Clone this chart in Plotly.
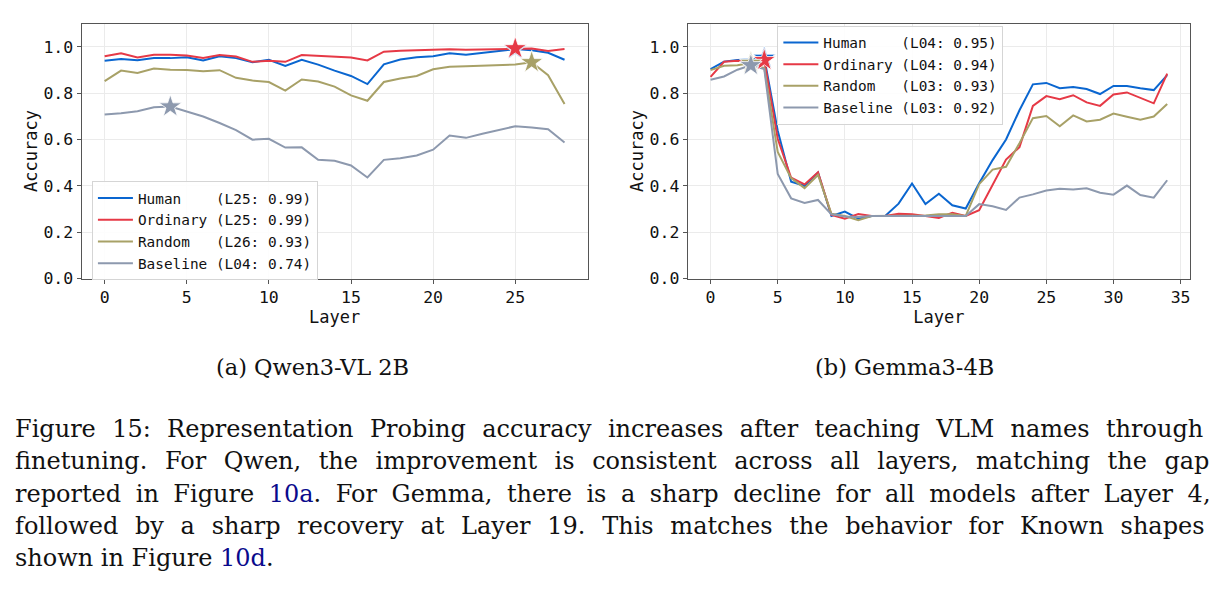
import plotly.graph_objects as go

# ---------------- data ----------------
qwen_layers = list(range(29))
qwen_human = [0.940, 0.947, 0.942, 0.951, 0.951, 0.955, 0.941, 0.959, 0.951, 0.933, 0.944, 0.917, 0.944, 0.923, 0.897,
              0.874, 0.839, 0.924, 0.945, 0.955, 0.959, 0.972, 0.966, 0.975, 0.982, 0.990, 0.985, 0.974, 0.944]
qwen_ordinary = [0.959, 0.972, 0.954, 0.966, 0.966, 0.962, 0.952, 0.964, 0.958, 0.935, 0.940, 0.935, 0.964, 0.961, 0.957,
                 0.954, 0.941, 0.979, 0.983, 0.985, 0.988, 0.989, 0.987, 0.988, 0.990, 0.993, 0.992, 0.982, 0.990]
qwen_random = [0.852, 0.897, 0.887, 0.906, 0.901, 0.900, 0.894, 0.899, 0.866, 0.854, 0.848, 0.811, 0.859, 0.850, 0.828,
               0.790, 0.767, 0.848, 0.863, 0.874, 0.903, 0.914, 0.916, 0.918, 0.921, 0.923, 0.933, 0.877, 0.753]
qwen_baseline = [0.708, 0.713, 0.722, 0.739, 0.742, 0.722, 0.699, 0.671, 0.640, 0.599, 0.603, 0.565, 0.566, 0.512, 0.508,
                 0.488, 0.436, 0.512, 0.519, 0.531, 0.556, 0.617, 0.607, 0.625, 0.642, 0.657, 0.652, 0.644, 0.587]

gemma_layers = list(range(35))
gemma_human = [0.904, 0.936, 0.943, 0.945, 0.952, 0.638, 0.418, 0.400, 0.457, 0.270, 0.289, 0.258, 0.270, 0.270, 0.323,
               0.410, 0.321, 0.366, 0.316, 0.302, 0.411, 0.511, 0.600, 0.726, 0.838, 0.844, 0.821, 0.826, 0.818, 0.796,
               0.831, 0.831, 0.821, 0.813, 0.878]
gemma_ordinary = [0.870, 0.935, 0.940, 0.935, 0.942, 0.603, 0.435, 0.406, 0.458, 0.274, 0.258, 0.278, 0.270, 0.270, 0.279,
                  0.277, 0.270, 0.261, 0.284, 0.270, 0.295, 0.403, 0.513, 0.567, 0.745, 0.787, 0.774, 0.791, 0.760, 0.745,
                  0.794, 0.803, 0.779, 0.756, 0.884]
gemma_random = [0.899, 0.918, 0.920, 0.930, 0.908, 0.546, 0.433, 0.390, 0.447, 0.279, 0.270, 0.252, 0.270, 0.270, 0.270,
                0.272, 0.272, 0.277, 0.277, 0.270, 0.407, 0.470, 0.482, 0.584, 0.692, 0.701, 0.657, 0.704, 0.678, 0.685,
                0.712, 0.698, 0.685, 0.699, 0.753]
gemma_baseline = [0.858, 0.872, 0.901, 0.920, 0.904, 0.451, 0.346, 0.326, 0.339, 0.277, 0.268, 0.265, 0.270, 0.270, 0.270,
                  0.270, 0.268, 0.270, 0.270, 0.270, 0.321, 0.312, 0.296, 0.349, 0.363, 0.380, 0.387, 0.384, 0.389, 0.370,
                  0.362, 0.401, 0.360, 0.349, 0.424]

series_names = ["Human", "Ordinary", "Random", "Baseline"]
series_colors = ["#0A66D0", "#E63946", "#A8A167", "#8D99AE"]

x_ticks = [0, 5, 10, 15, 20, 25, 30, 35]
y_ticks = [0.0, 0.2, 0.4, 0.6, 0.8, 1.0]

subcaptions = ["(a) Qwen3-VL 2B", "(b) Gemma3-4B"]
LINK = "#0A0A8C"
# each caption line: list of (text, color) pieces
caption_lines = [
    [("Figure 15: Representation Probing accuracy increases after teaching VLM names through", None)],
    [("finetuning. For Qwen, the improvement is consistent across all layers, matching the gap", None)],
    [("reported in Figure ", None), ("10a", LINK), (". For Gemma, there is a sharp decline for all models after Layer 4,", None)],
    [("followed by a sharp recovery at Layer 19. This matches the behavior for Known shapes", None)],
    [("shown in Figure ", None), ("10d", LINK), (".", None)],
]
caption_word_spacing = [8.7, 9.9, 6.9, 9.1, 0.0]

# ---------------- figure ----------------
W, H = 1222, 592
MONO = "DejaVu Sans Mono"
SERIF = "DejaVu Serif"

fig = go.Figure()

panels = [
    (qwen_layers, [qwen_human, qwen_ordinary, qwen_random, qwen_baseline], "x", "y", "legend"),
    (gemma_layers, [gemma_human, gemma_ordinary, gemma_random, gemma_baseline], "x2", "y2", "legend2"),
]

for layers, data, xa, ya, lg in panels:
    for name, color, vals in zip(series_names, series_colors, data):
        best = max(range(len(vals)), key=lambda i: vals[i])
        label = name.ljust(8).replace(" ", "\u00a0") + "\u00a0(L%02d:\u00a0%.2f)" % (layers[best], vals[best])
        fig.add_trace(go.Scatter(x=layers, y=vals, mode="lines", name=label,
                                 line=dict(color=color, width=2), xaxis=xa, yaxis=ya, legend=lg))
    for name, color, vals in zip(series_names, series_colors, data):
        best = max(range(len(vals)), key=lambda i: vals[i])
        fig.add_trace(go.Scatter(x=[layers[best]], y=[vals[best]], mode="markers", showlegend=False,
                                 marker=dict(symbol="star", size=17, color=color,
                                             line=dict(color="white", width=0.8)),
                                 xaxis=xa, yaxis=ya))

def px_x(p):
    return p / W

def px_y(p):
    return 1 - p / H

ydom = [px_y(283.3), px_y(24)]
axis_common = dict(showline=True, mirror=True, linecolor="#555555", linewidth=1.2,
                   showgrid=True, gridcolor="#EBEBEB", gridwidth=1,
                   ticks="outside", ticklen=4, tickwidth=1, tickcolor="#555555",
                   tickfont=dict(family=MONO, size=16.5, color="#111111"), zeroline=False)

fig.update_layout(
    width=W, height=H, margin=dict(l=0, r=0, t=0, b=0),
    paper_bgcolor="white", plot_bgcolor="white",
    xaxis=dict(domain=[px_x(81.7), px_x(588)], range=[-1.4, 29.4], tickvals=x_ticks[:6], anchor="y",
               title=dict(text="Layer", font=dict(family=MONO, size=17, color="#111111"), standoff=4),
               **axis_common),
    yaxis=dict(domain=ydom, range=[0, 1.1], tickvals=y_ticks, tickformat=".1f", anchor="x",
               title=dict(text="Accuracy", font=dict(family=MONO, size=17, color="#111111"), standoff=1),
               **axis_common),
    xaxis2=dict(domain=[px_x(688.3), px_x(1191)], range=[-1.7, 35.7], tickvals=x_ticks, anchor="y2",
                title=dict(text="Layer", font=dict(family=MONO, size=17, color="#111111"), standoff=4),
                **axis_common),
    yaxis2=dict(domain=ydom, range=[0, 1.1], tickvals=y_ticks, tickformat=".1f", anchor="x2",
                title=dict(text="Accuracy", font=dict(family=MONO, size=17, color="#111111"), standoff=1),
                **axis_common),
    legend=dict(x=px_x(92), y=px_y(285), xanchor="left", yanchor="bottom", itemwidth=35,
                bgcolor="rgba(255,255,255,0.9)", bordercolor="#D5D5D5", borderwidth=1,
                font=dict(family=MONO, size=14.4, color="#111111"), tracegroupgap=0),
    legend2=dict(x=px_x(778), y=px_y(26), xanchor="left", yanchor="top", itemwidth=35,
                 bgcolor="rgba(255,255,255,0.9)", bordercolor="#D5D5D5", borderwidth=1,
                 font=dict(family=MONO, size=14.4, color="#111111"), tracegroupgap=0),
)

annotations = []
for text, cx in zip(subcaptions, [313, 905]):
    annotations.append(dict(text=text, x=px_x(cx), y=px_y(373), xref="paper", yref="paper",
                            xanchor="center", yanchor="middle", showarrow=False,
                            font=dict(family=SERIF, size=22.5, color="#111111")))
for i, (pieces, ws) in enumerate(zip(caption_lines, caption_word_spacing)):
    html = ""
    for txt, col in pieces:
        style = "word-spacing:%.1fpx" % ws
        if col:
            style = "color:%s;" % col + style
        html += "<span style='%s'>%s</span>" % (style, txt)
    annotations.append(dict(text=html, x=px_x(13), y=px_y(436 + 33 * i), xref="paper", yref="paper",
                            xanchor="left", yanchor="middle", showarrow=False, align="left",
                            font=dict(family=SERIF, size=24, color="#111111")))
fig.update_layout(annotations=annotations)

fig.write_html("out.html")
